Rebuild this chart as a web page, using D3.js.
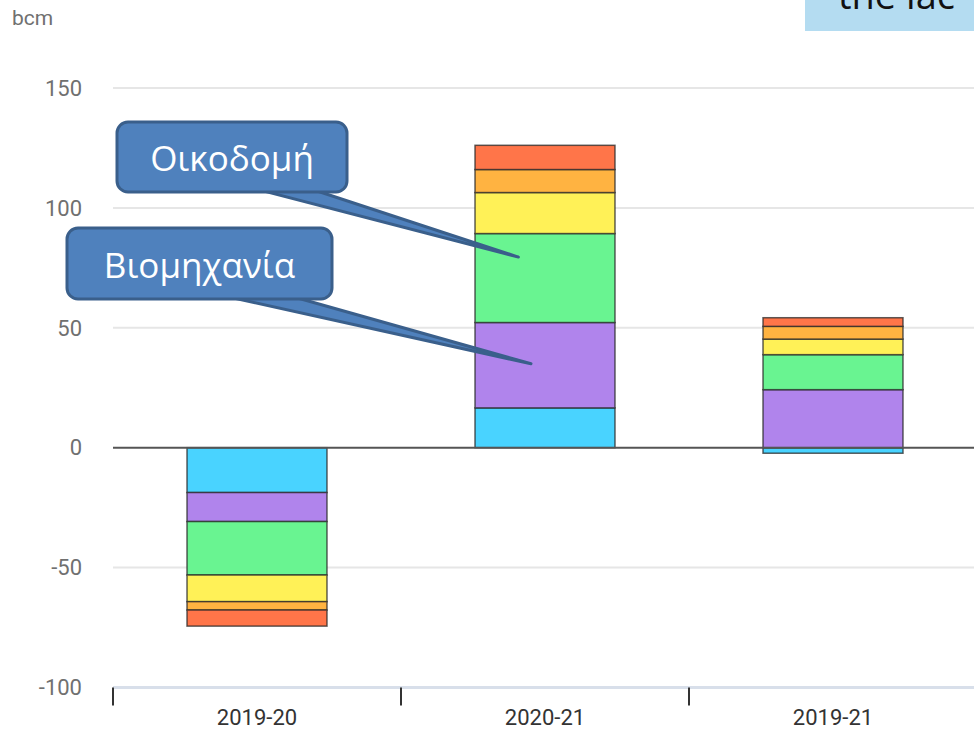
<!DOCTYPE html>
<html>
<head>
<meta charset="utf-8">
<script src="https://cdn.jsdelivr.net/npm/d3@7"></script>
<style>
  body { margin: 0; background: #fff; }
  svg { display: block; }
  .tick-label { font-family: Roboto, "Open Sans", sans-serif; font-size: 22px; fill: #707070; }
  .cat-label { font-family: Roboto, "Open Sans", sans-serif; font-size: 22px; fill: #333; }
  .callout-text { font-family: "Open Sans", "Noto Sans", sans-serif; font-size: 35px; fill: #fff; }
</style>
</head>
<body>
<div id="chart"></div>
<script>
const size = { width: 974, height: 731 };

const categories = ['2019-20', '2020-21', '2019-21'];
const seriesKeys = ['power', 'industry', 'buildings', 'other', 'transport', 'rest'];
const seriesColors = ['#49d3ff', '#b084ec', '#69f491', '#fff157', '#ffb341', '#ff7549'];

const power = [-18.7, 16.6, -2.3];
const industry = [-12.1, 35.6, 24.2];
const buildings = [-22.3, 37.1, 14.6];
const other = [-11.1, 17.1, 6.5];
const transport = [-3.5, 9.6, 5.3];
const rest = [-6.7, 10.1, 3.6];

const yTicks = [-100, -50, 0, 50, 100, 150];

const table = categories.map((c, i) => ({
    cat: c,
    power: power[i],
    industry: industry[i],
    buildings: buildings[i],
    other: other[i],
    transport: transport[i],
    rest: rest[i]
}));

const svg = d3.select('#chart')
    .append('svg')
    .attr('width', size.width)
    .attr('height', size.height);

const x = d3.scaleBand()
    .domain(categories)
    .range([113, 977])
    .paddingInner(0.514)
    .paddingOuter(0.257);

const y = d3.scaleLinear()
    .domain([-100, 150])
    .range([687.5, 88]);

// unit label
svg.append('text')
    .attr('x', 12)
    .attr('y', 25)
    .attr('class', 'tick-label')
    .style('font-size', '21px')
    .text('bcm');

// gridlines
svg.append('g')
    .selectAll('line')
    .data(yTicks.filter(d => d !== 0 && d !== -100))
    .enter()
    .append('line')
        .attr('x1', 113)
        .attr('x2', size.width)
        .attr('y1', d => y(d))
        .attr('y2', d => y(d))
        .attr('stroke', '#e6e6e6')
        .attr('stroke-width', 2);

// y labels
svg.append('g')
    .selectAll('text')
    .data(yTicks)
    .enter()
    .append('text')
        .attr('class', 'tick-label')
        .attr('x', 82)
        .attr('y', d => y(d))
        .attr('dy', '0.35em')
        .attr('text-anchor', 'end')
        .text(d => d);

// stacked bars
const stack = d3.stack()
    .keys(seriesKeys)
    .offset(d3.stackOffsetDiverging);

const layers = stack(table);

svg.append('g')
    .selectAll('g')
    .data(layers)
    .enter()
    .append('g')
        .attr('fill', (d, i) => seriesColors[i])
    .selectAll('rect')
    .data(d => d)
    .enter()
    .append('rect')
        .attr('x', d => x(d.data.cat))
        .attr('width', x.bandwidth())
        .attr('y', d => y(Math.max(d[0], d[1])))
        .attr('height', d => Math.abs(y(d[0]) - y(d[1])))
        .attr('stroke', 'rgba(40,40,40,0.75)')
        .attr('stroke-width', 1.5);

// zero line
svg.append('line')
    .attr('x1', 113)
    .attr('x2', size.width)
    .attr('y1', y(0))
    .attr('y2', y(0))
    .attr('stroke', '#555')
    .attr('stroke-width', 2);

// bottom axis
svg.append('line')
    .attr('x1', 113)
    .attr('x2', size.width)
    .attr('y1', y(-100))
    .attr('y2', y(-100))
    .attr('stroke', '#d8dfea')
    .attr('stroke-width', 3);

const step = x.step();
const bounds = categories.map((c, i) => 113 + i * step).concat([113 + categories.length * step]);

svg.append('g')
    .selectAll('line')
    .data(bounds)
    .enter()
    .append('line')
        .attr('x1', d => d)
        .attr('x2', d => d)
        .attr('y1', y(-100))
        .attr('y2', y(-100) + 18)
        .attr('stroke', '#333')
        .attr('stroke-width', 2);

svg.append('g')
    .selectAll('text')
    .data(categories)
    .enter()
    .append('text')
        .attr('class', 'cat-label')
        .attr('x', d => x(d) + x.bandwidth() / 2)
        .attr('y', 725)
        .attr('text-anchor', 'middle')
        .text(d => d);

// callouts
const callouts = [
    { text: 'Οικοδομή', box: [117, 122, 230, 70], base: [252, 308], tip: [x('2020-21') + x.bandwidth() * 0.31, y(79.5)] },
    { text: 'Βιομηχανία', box: [67, 228, 265, 71], base: [220, 287], tip: [x('2020-21') + x.bandwidth() * 0.40, y(35)] }
];

callouts.forEach(c => {
    const g = svg.append('g');
    const [bx, by, bw, bh] = c.box;
    g.append('path')
        .attr('d', `M${c.base[0]},${by + bh - 4} L${c.tip[0]},${c.tip[1]} L${c.base[1]},${by + bh - 4} Z`)
        .attr('fill', '#4f81bd')
        .attr('stroke', '#3a5f8b')
        .attr('stroke-width', 3)
        .attr('stroke-linejoin', 'round');
    g.append('rect')
        .attr('x', bx)
        .attr('y', by)
        .attr('width', bw)
        .attr('height', bh)
        .attr('rx', 11)
        .attr('fill', '#4f81bd')
        .attr('stroke', '#3a5f8b')
        .attr('stroke-width', 3);
    g.append('text')
        .attr('class', 'callout-text')
        .attr('x', bx + bw / 2)
        .attr('y', by + bh / 2 + 2)
        .attr('dy', '0.35em')
        .attr('text-anchor', 'middle')
        .text(c.text);
});

// note box at top right, cut by the page edge as in the source
svg.append('rect')
    .attr('x', 805)
    .attr('y', 0)
    .attr('width', size.width - 805)
    .attr('height', 31)
    .attr('fill', '#b4dcf1');

svg.append('text')
    .attr('x', 838)
    .attr('y', 9)
    .style('font-family', '"Open Sans", sans-serif')
    .style('font-size', '38px')
    .attr('fill', '#111')
    .text('the lac');
</script>
</body>
</html>
